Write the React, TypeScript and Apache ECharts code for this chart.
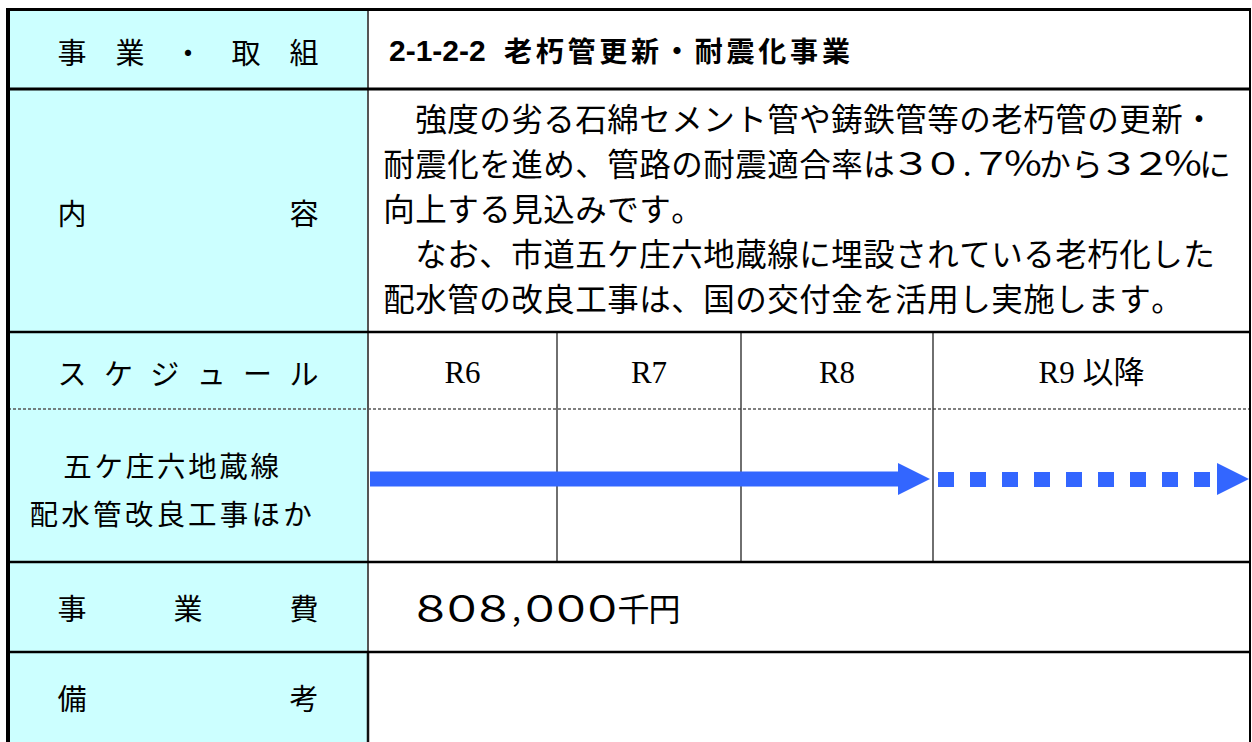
import React, { useEffect, useRef } from "react";
import * as echarts from "echarts";

// ---- content ----
const headerLabel = "事業・取組";
const titleCode = "2-1-2-2";
const titleName = "老朽管更新・耐震化事業";
const contentLabel = "内容";
const bodyLines = [
  "　強度の劣る石綿セメント管や鋳鉄管等の老朽管の更新・",
  "耐震化を進め、管路の耐震適合率は３０.７％から３２％に",
  "向上する見込みです。",
  "　なお、市道五ケ庄六地蔵線に埋設されている老朽化した",
  "配水管の改良工事は、国の交付金を活用し実施します。",
];
const scheduleLabel = "スケジュール";
const periods = ["R6", "R7", "R8", "R9 以降"];
const taskLines = ["五ケ庄六地蔵線", "配水管改良工事ほか"];
// plan spans: [first period, last period]
const planSolid = ["R6", "R8"];
const planDotted = ["R9 以降", "R9 以降"];
const costLabel = "事業費";
const costValue = "８０８,０００千円";
const noteLabel = "備考";

const JP = "'Noto Sans CJK JP', 'Noto Sans', sans-serif";
const SERIF = "'Liberation Serif', 'DejaVu Serif', 'Noto Sans CJK JP', serif";
const ARIAL = "'Liberation Sans', Arial, sans-serif";
const BLUE = "#3366ff";

function isHalf(ch: string) {
  return ch.charCodeAt(0) < 0x2000;
}
function isWideDigit(ch: string) {
  const c = ch.charCodeAt(0);
  return c >= 0xff10 && c <= 0xff19;
}

function txt(text: string, x: number, y: number, size: number, family: string, opts: any = {}) {
  return {
    type: "text",
    x,
    y,
    scaleX: opts.scaleX || 1,
    style: {
      text,
      fontSize: size,
      fontFamily: family,
      fontWeight: opts.bold ? "bold" : "normal",
      fill: opts.fill || "#000",
      align: opts.align || "center",
      verticalAlign: "middle",
      textAlign: opts.align || "center",
      textVerticalAlign: "middle",
    },
  };
}

// place characters one by one with a fixed advance
function spaced(str: string, x0: number, y: number, adv: number, size: number, opts: any = {}) {
  const out: any[] = [];
  let x = x0;
  for (const ch of Array.from(str)) {
    const w = isHalf(ch) ? adv / 2 : adv;
    if (ch !== "　" && ch !== " ") {
      const digit = isWideDigit(ch) || ch === "％";
      const o = { ...opts, scaleX: digit ? opts.digitScale || 1.3 : 1 };
      const s = digit && opts.digitSize ? opts.digitSize : size;
      out.push(txt(ch, x + w / 2, y, s, JP, o));
    }
    x += w;
  }
  return out;
}

// distribute characters evenly between two centres
function distributed(str: string, c0: number, c1: number, y: number, size: number) {
  const chars = Array.from(str);
  const n = chars.length;
  return chars.map((ch, i) => txt(ch, n === 1 ? (c0 + c1) / 2 : c0 + ((c1 - c0) * i) / (n - 1), y, size, JP));
}

export default function App() {
  const ref = useRef<HTMLDivElement>(null);

  useEffect(() => {
    if (!ref.current) return;
    const chart = echarts.init(ref.current, null, { renderer: "svg" });

    const L = 8, R = 1250, T = 9.5, B = 742;
    const labelRight = 368;
    const rowY = [T, 89, 332, 409, 562, 652, B];
    const colX = [labelRight, 557, 741, 933, R];
    const periodIdx = (p: string) => periods.indexOf(p);

    const els: any[] = [];
    // backgrounds
    els.push({ type: "rect", shape: { x: 0, y: 0, width: 1252, height: 742 }, style: { fill: "#fff" } });
    els.push({ type: "rect", shape: { x: L, y: T, width: labelRight - L, height: B - T }, style: { fill: "#ccffff" } });

    // dashed row separator
    els.push({ type: "line", shape: { x1: L, y1: rowY[3], x2: R, y2: rowY[3] }, style: { stroke: "#555", lineWidth: 1.4, lineDash: [3, 2] } });
    // period column lines
    for (let i = 1; i < colX.length - 1; i++) {
      els.push({ type: "line", shape: { x1: colX[i], y1: rowY[2], x2: colX[i], y2: rowY[4] }, style: { stroke: "#333", lineWidth: 1.4 } });
    }
    // label column divider
    els.push({ type: "line", shape: { x1: labelRight, y1: T, x2: labelRight, y2: rowY[5] }, style: { stroke: "#555", lineWidth: 2 } });
    els.push({ type: "line", shape: { x1: labelRight, y1: rowY[5], x2: labelRight, y2: B }, style: { stroke: "#111", lineWidth: 2.5 } });

    // horizontal thick lines
    const hw = [3, 3, 2.5, 0, 2.5, 2.5];
    [0, 1, 2, 4, 5].forEach((i) => {
      els.push({ type: "line", shape: { x1: L - 2, y1: rowY[i], x2: R + 1, y2: rowY[i] }, style: { stroke: "#000", lineWidth: hw[i] } });
    });
    // outer left / right
    els.push({ type: "line", shape: { x1: L, y1: T - 1.5, x2: L, y2: B }, style: { stroke: "#000", lineWidth: 4 } });
    els.push({ type: "line", shape: { x1: R, y1: T - 1.5, x2: R, y2: B }, style: { stroke: "#000", lineWidth: 2 } });

    // label column texts
    const c0 = 72, c1 = 304, ls = 29;
    els.push(...distributed(headerLabel, c0, c1, 51, ls));
    els.push(...distributed(contentLabel, c0, c1, 212, ls));
    els.push(...distributed(scheduleLabel, c0, c1, 372, ls));
    els.push(...distributed(costLabel, c0, c1, 607, ls));
    els.push(...distributed(noteLabel, c0, c1, 697, ls));
    els.push(...spaced(taskLines[0], 62, 464, 31.2, 28.5));
    els.push(...spaced(taskLines[1], 28, 512, 31.7, 28.5));

    // title
    els.push(txt(titleCode, 389, 50, 30, ARIAL, { bold: true, align: "left" }));
    els.push(...spaced(titleName, 502, 50, 31.8, 28, { bold: true }));

    // body
    const lineY = [117, 162, 207, 252, 297];
    bodyLines.forEach((ln, i) => els.push(...spaced(ln, 383, lineY[i], 32, 31.5)));

    // periods
    periods.forEach((p, i) => els.push(txt(p, (colX[i] + colX[i + 1]) / 2, 372, 31, SERIF)));

    // arrows
    const ay = 479;
    const sx0 = colX[periodIdx(planSolid[0])] + 2;
    const sx1 = colX[periodIdx(planSolid[1]) + 1] - 3;
    els.push({ type: "rect", shape: { x: sx0, y: ay - 7.5, width: sx1 - 32 - sx0, height: 15 }, style: { fill: BLUE } });
    els.push({ type: "polygon", shape: { points: [[sx1 - 32, ay - 16], [sx1, ay], [sx1 - 32, ay + 16]] }, style: { fill: BLUE } });
    const dx0 = colX[periodIdx(planDotted[0])] + 5;
    const dx1 = colX[periodIdx(planDotted[1]) + 1] - 1;
    els.push({ type: "line", shape: { x1: dx0, y1: ay + 0.5, x2: dx1 - 34, y2: ay + 0.5 }, style: { stroke: BLUE, lineWidth: 15, lineDash: [16, 16], lineCap: "butt" } });
    els.push({ type: "polygon", shape: { points: [[dx1 - 32, ay - 16], [dx1, ay], [dx1 - 32, ay + 16]] }, style: { fill: BLUE } });

    // cost
    els.push(...spaced(costValue, 415, 607, 31.2, 32, { digitScale: 1.25, digitSize: 36 }));

    chart.setOption({ animation: false, graphic: { elements: els } });
    return () => chart.dispose();
  }, []);

  return (
    <div
      ref={ref}
      style={{ position: "fixed", left: 0, top: 0, width: 1252, height: 742, background: "#fff" }}
    />
  );
}
